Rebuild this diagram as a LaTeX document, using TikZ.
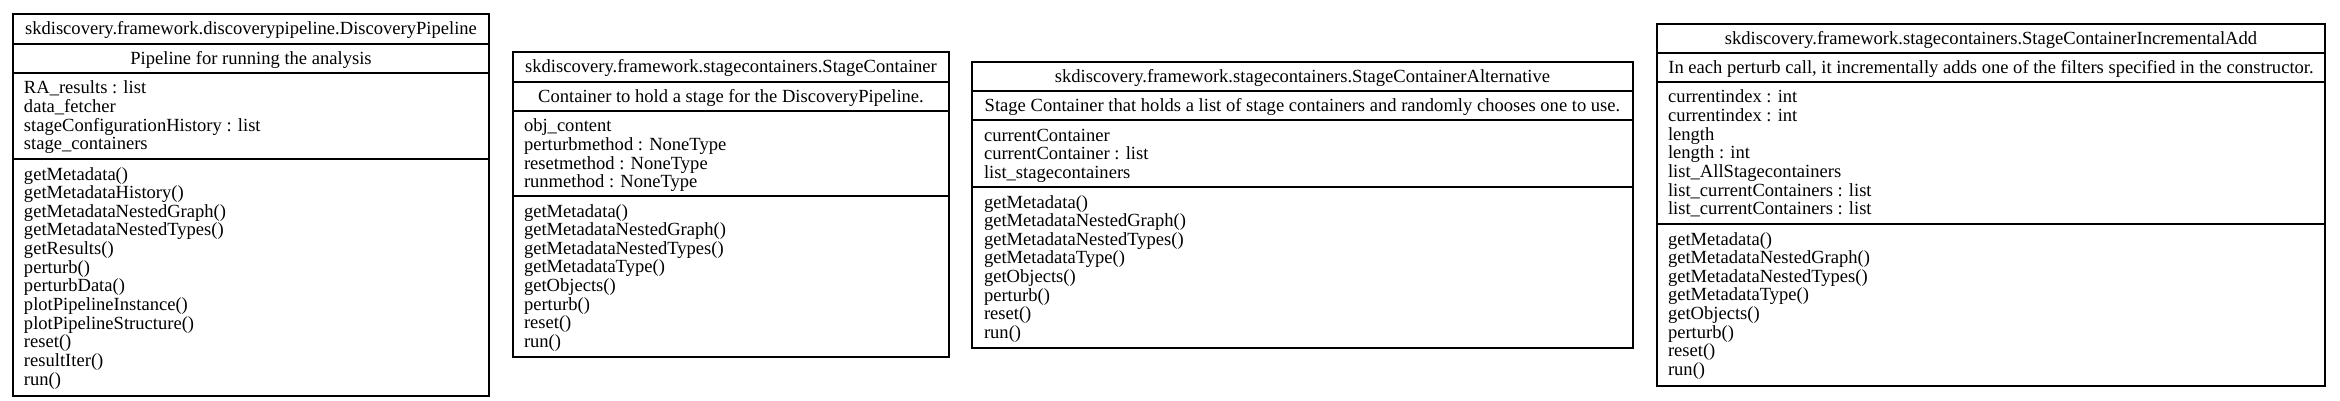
\documentclass[tikz,border=0pt]{standalone}
\usepackage{fontspec}
\setmainfont{Liberation Serif}
\tikzset{
  frameline/.style={draw=black, line width=0.9pt},
  umltext/.style={font=\fontsize{9.28pt}{9.33pt}\selectfont, inner sep=0pt, outer sep=0pt},
}
\newcommand\umlframe[7]{%
  \draw[frameline] (#1,#3) rectangle (#2,#7);
  \draw[frameline] (#1,#4) -- (#2,#4);
  \draw[frameline] (#1,#5) -- (#2,#5);
  \draw[frameline] (#1,#6) -- (#2,#6);
}
\newcommand\umllines[4]{%
  \foreach \t [count=\i] in {#4} {\node[umltext, anchor=base west] (#1\i) at (#2, {#3+(\i-1)*18.65}) {\t};}
}
\begin{document}
\begin{tikzpicture}[x=0.5pt,y=-0.5pt]
\useasboundingbox (0,0) rectangle (2340,401);
% ---------------- box 1
\umlframe{13}{489}{14}{44}{73}{159}{396}
\node[umltext, anchor=base] (pipeHead) at (251,35) {skdiscovery.framework.discoverypipeline.DiscoveryPipeline};
\node[umltext, anchor=base] (pipeDesc) at (251,65) {Pipeline for running the analysis};
\umllines{pipeAttr}{24}{94}{RA\_results : list, data\_fetcher, stageConfigurationHistory : list, stage\_containers}
\umllines{pipeMeth}{24}{180}{getMetadata(), getMetadataHistory(), getMetadataNestedGraph(), getMetadataNestedTypes(), getResults(), perturb(), perturbData(), plotPipelineInstance(), plotPipelineStructure(), reset(), resultIter(), run()}
% ---------------- box 2
\umlframe{513}{949}{52}{82}{111}{196}{357}
\node[umltext, anchor=base] (scHead) at (731,73) {skdiscovery.framework.stagecontainers.StageContainer};
\node[umltext, anchor=base] (scDesc) at (731,103) {Container to hold a stage for the DiscoveryPipeline.};
\umllines{scAttr}{524}{132}{obj\_content, perturbmethod : NoneType, resetmethod : NoneType, runmethod : NoneType}
\umllines{scMeth}{524}{217}{getMetadata(), getMetadataNestedGraph(), getMetadataNestedTypes(), getMetadataType(), getObjects(), perturb(), reset(), run()}
% ---------------- box 3
\umlframe{972}{1633}{62}{91}{120}{187}{348}
\node[umltext, anchor=base] (altHead) at (1302.5,83) {skdiscovery.framework.stagecontainers.StageContainerAlternative};
\node[umltext, anchor=base] (altDesc) at (1302.5,112) {Stage Container that holds a list of stage containers and randomly chooses one to use.};
\umllines{altAttr}{984}{141}{currentContainer, currentContainer : list, list\_stagecontainers}
\umllines{altMeth}{984}{208}{getMetadata(), getMetadataNestedGraph(), getMetadataNestedTypes(), getMetadataType(), getObjects(), perturb(), reset(), run()}
% ---------------- box 4
\umlframe{1657}{2325}{24}{53}{82}{224}{386}
\node[umltext, anchor=base] (incHead) at (1991,45) {skdiscovery.framework.stagecontainers.StageContainerIncrementalAdd};
\node[umltext, anchor=base] (incDesc) at (1991,74) {In each perturb call, it incrementally adds one of the filters specified in the constructor.};
\umllines{incAttr}{1668}{103}{currentindex : int, currentindex : int, length, length : int, list\_AllStagecontainers, list\_currentContainers : list, list\_currentContainers : list}
\umllines{incMeth}{1668}{245}{getMetadata(), getMetadataNestedGraph(), getMetadataNestedTypes(), getMetadataType(), getObjects(), perturb(), reset(), run()}
\end{tikzpicture}
\end{document}
